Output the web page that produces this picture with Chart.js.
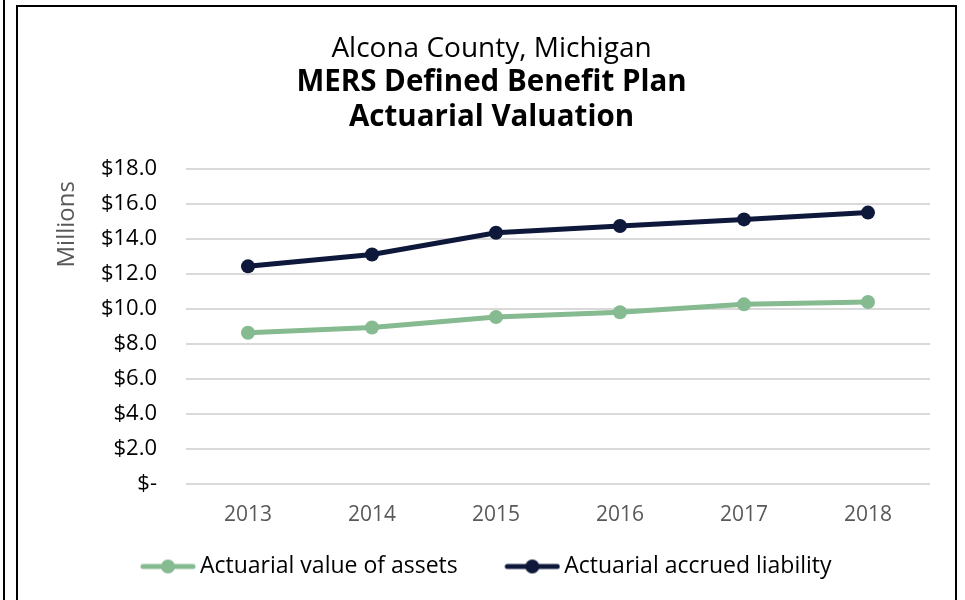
<!DOCTYPE html>
<html>
<head>
<meta charset="utf-8">
<script src="https://cdn.jsdelivr.net/npm/chart.js@4"></script>
<style>
  html, body { margin: 0; padding: 0; background: #fff; }
  #wrap { position: relative; width: 965px; height: 600px; overflow: hidden; }
  #chart { position: absolute; left: 0; top: 0; }
  .edge { position: absolute; border-left: 2px solid #000; }
  #box { position: absolute; left: 16px; top: 5px; width: 937px; height: 620px; border: 2px solid #000; }
</style>
</head>
<body>
<div id="wrap">
  <canvas id="chart" width="965" height="600"></canvas>
  <div class="edge" style="left:3px; top:0; height:600px;"></div>
  <div id="box"></div>
</div>
<script>
const anos = ['2013', '2014', '2015', '2016', '2017', '2018'];
const valorAtivos = [8.63, 8.93, 9.52, 9.80, 10.25, 10.38];
const passivoAtuarial = [12.42, 13.10, 14.34, 14.72, 15.10, 15.49];
const ticksY = [0, 2, 4, 6, 8, 10, 12, 14, 16, 18];

const corVerde = '#86BA90';
const corAzul = '#0D183A';
const fonte = '"Open Sans", Lato, sans-serif';

// icone da legenda: linha com bolinha, encostado no lado direito do canvas
// (o canvas e centrado na caixa da legenda, entao a parte vazia empurra o icone)
function iconeLegenda(cor) {
    const c = document.createElement('canvas');
    c.width = 94; c.height = 16;
    const g = c.getContext('2d');
    g.strokeStyle = cor;
    g.lineWidth = 5;
    g.lineCap = 'round';
    g.beginPath(); g.moveTo(41, 8); g.lineTo(91, 8); g.stroke();
    g.fillStyle = cor;
    g.beginPath(); g.arc(66, 8, 7, 0, Math.PI * 2); g.fill();
    return c;
}
const icones = [iconeLegenda(corVerde), iconeLegenda(corAzul)];

// puxa a legenda um pouco pra esquerda, como no original
const deslocaLegenda = {
    id: 'deslocaLegenda',
    afterLayout(chart) {
        if (chart.legend) {
            chart.legend.left -= 21;
            chart.legend.right -= 21;
        }
    }
};

const ctx = document.getElementById('chart').getContext('2d');
new Chart(ctx, {
    type: 'line',
    data: {
        labels: anos,
        datasets: [
            {
                label: 'Actuarial value of assets',
                data: valorAtivos,
                borderColor: corVerde,
                backgroundColor: corVerde,
                borderWidth: 5,
                pointRadius: 7,
                pointHoverRadius: 7,
                pointBorderWidth: 0,
                tension: 0
            },
            {
                label: 'Actuarial accrued liability',
                data: passivoAtuarial,
                borderColor: corAzul,
                backgroundColor: corAzul,
                borderWidth: 5,
                pointRadius: 7,
                pointHoverRadius: 7,
                pointBorderWidth: 0,
                tension: 0
            }
        ]
    },
    options: {
        responsive: false,
        animation: false,
        layout: { padding: { top: 32, right: 35, bottom: 12, left: 53 } },
        plugins: {
            tooltip: { enabled: false },
            title: {
                display: true,
                text: 'Alcona County, Michigan',
                color: '#000',
                font: { family: fonte, size: 28, weight: 'normal', lineHeight: 1.2 },
                padding: { top: 0, bottom: 0 }
            },
            subtitle: {
                display: true,
                text: ['MERS Defined Benefit Plan', 'Actuarial Valuation'],
                color: '#000',
                font: { family: fonte, size: 29.5, weight: 'bold', lineHeight: 1.17 },
                padding: { top: 0, bottom: 34 }
            },
            legend: {
                position: 'bottom',
                labels: {
                    usePointStyle: true,
                    pointStyleWidth: 79,
                    boxHeight: 16,
                    color: '#000',
                    font: { family: fonte, size: 23 },
                    padding: 16,
                    generateLabels(chart) {
                        const itens = Chart.defaults.plugins.legend.labels.generateLabels(chart);
                        itens.forEach((it, i) => { it.pointStyle = icones[i]; });
                        return itens;
                    }
                }
            }
        },
        scales: {
            x: {
                offset: true,
                grid: { display: false },
                border: { display: false },
                ticks: { color: '#595959', font: { family: fonte, size: 21 }, padding: 11 }
            },
            y: {
                min: 0,
                max: 18,
                afterBuildTicks(scale) { scale.ticks = ticksY.map(v => ({ value: v })); },
                afterFit(scale) { scale.width = 133; },
                grid: { color: '#d9d9d9', lineWidth: 2, drawTicks: false },
                border: { display: false },
                ticks: {
                    color: '#000',
                    font: { family: fonte, size: 22 },
                    padding: 29,
                    callback: v => v === 0 ? '$-' : '$' + v.toFixed(1)
                },
                title: {
                    display: true,
                    text: 'Millions  ',
                    align: 'end',
                    color: '#595959',
                    font: { family: fonte, size: 24 },
                    padding: 0
                }
            }
        }
    },
    plugins: [deslocaLegenda]
});
</script>
</body>
</html>
